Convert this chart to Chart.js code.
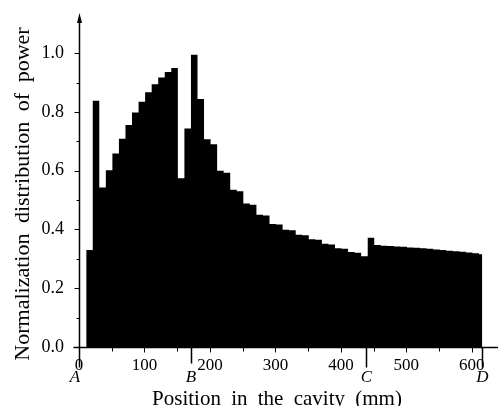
<!DOCTYPE html>
<html>
<head>
<meta charset="utf-8">
<script src="https://cdn.jsdelivr.net/npm/chart.js@4"></script>
<style>
  body { margin: 0; background: #fff; }
</style>
</head>
<body>
<canvas id="powerChart" width="498" height="406"></canvas>
<script>
// bin left edges (mm) and normalized power per bin
const positions = [11, 21, 31, 41, 51, 61, 71, 81, 91, 101,
    111, 121, 131, 141, 151, 161, 171, 181, 191, 201,
    211, 221, 231, 241, 251, 261, 271, 281, 291, 301,
    311, 321, 331, 341, 351, 361, 371, 381, 391, 401,
    411, 421, 431, 441, 451, 461, 471, 481, 491, 501,
    511, 521, 531, 541, 551, 561, 571, 581, 591, 601, 611];
const power = [0.33, 0.838, 0.543, 0.602, 0.659, 0.709, 0.756, 0.798, 0.835, 0.867,
    0.894, 0.917, 0.936, 0.950, 0.574, 0.744, 0.995, 0.844, 0.707, 0.690,
    0.600, 0.593, 0.535, 0.530, 0.488, 0.484, 0.450, 0.448, 0.419, 0.417,
    0.399, 0.397, 0.382, 0.380, 0.367, 0.365, 0.351, 0.349, 0.336, 0.334,
    0.323, 0.321, 0.309, 0.372, 0.347, 0.345, 0.344, 0.342, 0.341, 0.339,
    0.338, 0.336, 0.334, 0.332, 0.330, 0.328, 0.326, 0.324, 0.322, 0.319, 0.316];
const cavityEnd = 616;

const xTicks = [0, 100, 200, 300, 400, 500, 600];
const yTicks = [0, 0.2, 0.4, 0.6, 0.8, 1.0];
const markerLabels = ['A', 'B', 'C', 'D'];
const markerPositions = [0, 171, 439, 616];

const serif = "'Liberation Serif', 'DejaVu Serif', serif";

const points = positions.map((p, i) => ({ x: p, y: power[i] }));
points.push({ x: cavityEnd, y: power[power.length - 1] });

// axes, arrow, tick marks, A-D markers and titles
const axisDecor = {
    id: 'axisDecor',
    afterDatasetsDraw(chart) {
        const { ctx, chartArea } = chart;
        const xs = chart.scales.x, ys = chart.scales.y;
        const x0 = Math.round(xs.getPixelForValue(0)) + 0.5;
        const y0 = Math.round(ys.getPixelForValue(0)) + 0.5;
        ctx.save();
        ctx.strokeStyle = '#000';
        ctx.fillStyle = '#000';
        ctx.lineWidth = 1.5;

        ctx.beginPath();
        ctx.moveTo(x0, y0);
        ctx.lineTo(x0, chartArea.top + 4);
        ctx.stroke();
        ctx.beginPath();
        ctx.moveTo(x0, chartArea.top - 2);
        ctx.lineTo(x0 - 2.5, chartArea.top + 8);
        ctx.lineTo(x0 + 2.5, chartArea.top + 8);
        ctx.closePath();
        ctx.fill();

        ctx.beginPath();
        ctx.moveTo(x0 - 6, y0);
        ctx.lineTo(chartArea.right, y0);
        ctx.stroke();

        ctx.lineWidth = 1;
        ctx.beginPath();
        for (let v = 0; v <= 1.0001; v += 0.1) {
            const py = Math.round(ys.getPixelForValue(v)) + 0.5;
            const major = Math.round(v * 10) % 2 === 0;
            ctx.moveTo(x0 - (major ? 5 : 3), py);
            ctx.lineTo(x0, py);
        }
        for (let v = 50; v <= 600; v += 50) {
            const px = Math.round(xs.getPixelForValue(v)) + 0.5;
            ctx.moveTo(px, y0);
            ctx.lineTo(px, y0 + (v % 100 === 0 ? 5 : 4));
        }
        ctx.stroke();

        ctx.lineWidth = 1.5;
        ctx.beginPath();
        markerPositions.forEach((m, i) => {
            const px = Math.round(xs.getPixelForValue(m)) + 0.5;
            ctx.moveTo(px, y0);
            ctx.lineTo(px, y0 + (i === 1 ? 16 : 20));
        });
        ctx.stroke();

        ctx.font = 'italic 17px ' + serif;
        ctx.textAlign = 'center';
        ctx.textBaseline = 'middle';
        markerLabels.forEach((label, i) => {
            const px = xs.getPixelForValue(markerPositions[i]);
            ctx.fillText(label, px + (i === 0 ? -4 : 0), 378);
        });

        if ('wordSpacing' in ctx) ctx.wordSpacing = '5px';
        ctx.font = '21px ' + serif;
        ctx.textBaseline = 'alphabetic';
        ctx.fillText('Position in the cavity (mm)', 277, 405);

        ctx.translate(23, 194);
        ctx.rotate(-Math.PI / 2);
        ctx.font = '22px ' + serif;
        ctx.textBaseline = 'middle';
        ctx.fillText('Normalization distribution of power', 0, 0);
        ctx.restore();
    }
};

const chart = new Chart(document.getElementById('powerChart'), {
    type: 'line',
    data: {
        datasets: [{
            data: points,
            stepped: 'before',
            fill: 'origin',
            backgroundColor: '#000',
            borderColor: '#000',
            borderWidth: 0,
            pointRadius: 0
        }]
    },
    options: {
        responsive: false,
        animation: false,
        layout: { padding: { top: 15, right: 0, left: 0, bottom: 0 } },
        plugins: { legend: { display: false }, tooltip: { enabled: false } },
        scales: {
            x: {
                type: 'linear',
                min: 0,
                max: 640,
                grid: { display: false, drawTicks: false },
                border: { display: false },
                afterBuildTicks: (s) => { s.ticks = xTicks.map(v => ({ value: v })); },
                afterFit: (s) => { s.height = 59; },
                ticks: {
                    color: '#000',
                    padding: 8,
                    maxRotation: 0,
                    autoSkip: false,
                    font: { family: serif, size: 17 }
                }
            },
            y: {
                type: 'linear',
                min: 0,
                max: 1.13,
                grid: { display: false, drawTicks: false },
                border: { display: false },
                afterBuildTicks: (s) => { s.ticks = yTicks.map(v => ({ value: v })); },
                afterFit: (s) => {
                    s.width = 79;
                    s.paddingTop = 0;
                    s.paddingBottom = 0;
                },
                ticks: {
                    color: '#000',
                    padding: 15,
                    callback: (v) => v.toFixed(1),
                    font: { family: serif, size: 18 }
                }
            }
        }
    },
    plugins: [axisDecor]
});
</script>
</body>
</html>
